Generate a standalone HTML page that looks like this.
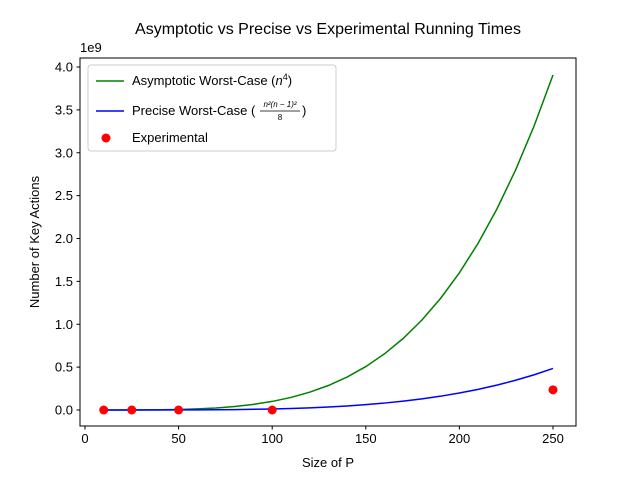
<!DOCTYPE html>
<html><head><meta charset="utf-8"><style>
html,body{margin:0;padding:0;background:#fff;}
svg{display:block;font-family:"Liberation Sans","DejaVu Sans",sans-serif;}
</style></head><body>
<svg id="chart" width="640" height="480" viewBox="0 0 640 480">
<rect width="640" height="480" fill="#fff"/>
<text x="328" y="34" font-size="16" text-anchor="middle">Asymptotic vs Precise vs Experimental Running Times</text>
<g id="axes"></g>
<g id="marks"></g>
<rect x="80" y="58" width="496" height="368" fill="none" stroke="#000" stroke-width="1"/>
<text x="80" y="52" font-size="13">1e9</text>
<text x="328" y="467" font-size="13" text-anchor="middle">Size of P</text>
<text transform="translate(39,242) rotate(-90)" font-size="13" text-anchor="middle">Number of Key Actions</text>
<g>
<rect x="88" y="65" width="248" height="86" rx="3" fill="#fff" fill-opacity="0.8" stroke="#ccc"/>
<line x1="96" y1="81" x2="124" y2="81" stroke="green" stroke-width="1.5"/>
<text x="132" y="85" font-size="13">Asymptotic Worst-Case (<tspan font-style="italic">n</tspan><tspan font-size="9" dy="-5">4</tspan><tspan dy="5">)</tspan></text>
<line x1="96" y1="111" x2="124" y2="111" stroke="blue" stroke-width="1.5"/>
<text x="132" y="115" font-size="13">Precise Worst-Case (</text>
<text x="280" y="107" font-size="8" text-anchor="middle" font-style="italic">n²(n − 1)²</text>
<line x1="260" y1="111" x2="300" y2="111" stroke="#000" stroke-width="0.7"/>
<text x="280" y="120" font-size="8" text-anchor="middle">8</text>
<text x="302" y="115" font-size="13">)</text>
<circle cx="106" cy="138" r="4.5" fill="red"/>
<text x="132" y="142" font-size="13">Experimental</text>
</g>
</svg>
<script>
const nVals=[10,20,30,40,50,60,70,80,90,100,110,120,130,140,150,160,170,180,190,200,210,220,230,240,250];
const asymptotic=[0.00001,0.00016,0.00081,0.00256,0.00625,0.01296,0.02401,0.04096,0.06561,0.1,0.14641,0.20736,0.28561,0.38416,0.50625,0.65536,0.83521,1.04976,1.30321,1.6,1.94481,2.34256,2.79841,3.31776,3.90625];
const precise=[0.000001,0.000018,0.0000946,0.000304,0.00075,0.00157,0.00292,0.00499,0.00802,0.01225,0.01797,0.02549,0.03515,0.04734,0.06244,0.0809,0.10318,0.12977,0.16119,0.19801,0.24079,0.29016,0.34677,0.41127,0.48438];
const expN=[10,25,50,100,250];
const expVals=[0.0000005,0.0000025,0.00001,0.00006,0.235];
const xTicks=[0,50,100,150,200,250];
const yTicks=[0,0.5,1,1.5,2,2.5,3,3.5,4];

const X=v=>85+v*1.872;
const Y=v=>410-v*85.75;
const NS="http://www.w3.org/2000/svg";
const axes=document.getElementById('axes'),marks=document.getElementById('marks');
function mk(tag,attrs,parent,text){const e=document.createElementNS(NS,tag);for(const k in attrs)e.setAttribute(k,attrs[k]);if(text!==undefined)e.textContent=text;parent.appendChild(e);return e;}
xTicks.forEach(t=>{
 const l=mk('line',{x1:X(t),x2:X(t),y1:426,y2:429.5,stroke:'#000'},axes);
 
 
 const s=mk('text',{x:X(t),y:443,'font-size':13,'text-anchor':'middle'},axes,String(t));
 
 
});
yTicks.forEach(t=>{
 const l=mk('line',{x1:76.5,x2:80,y1:Y(t),y2:Y(t),stroke:'#000'},axes);
 
 
 const s=mk('text',{x:73,y:Y(t)+4.5,'font-size':13,'text-anchor':'end'},axes,t.toFixed(1));
 
 
});
function line(vals,color,name){
 const p=mk('polyline',{points:nVals.map((n,i)=>X(n)+','+Y(vals[i])).join(' '),fill:'none',stroke:color,'stroke-width':1.5},marks);
 
 
}
line(asymptotic,'green','asymptotic-line');
line(precise,'blue','precise-line');
expN.forEach((n,i)=>{
 const c=mk('circle',{cx:X(n),cy:Y(expVals[i]),r:4.5,fill:'red'},marks);
 
 
});
</script>
</body></html>
